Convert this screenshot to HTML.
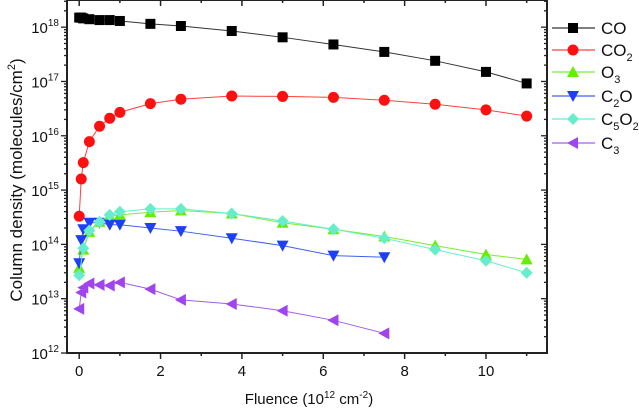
<!DOCTYPE html>
<html><head><meta charset="utf-8"><style>
body{margin:0;background:#fff;}
svg{display:block;font-family:"Liberation Sans",Arial,sans-serif;}
</style></head><body>
<svg id="chart" width="639" height="413" viewBox="0 0 639 413" xmlns="http://www.w3.org/2000/svg"></svg>
<script>
const xCO=[0,0.05,0.1,0.25,0.5,0.75,1,1.75,2.5,3.75,5,6.25,7.5,8.75,10,11];
const yCO=[1.5e18,1.5e18,1.45e18,1.4e18,1.35e18,1.35e18,1.3e18,1.15e18,1.05e18,8.5e17,6.5e17,4.8e17,3.5e17,2.4e17,1.5e17,9.2e16];
const xCO2=[0,0.05,0.1,0.25,0.5,0.75,1,1.75,2.5,3.75,5,6.25,7.5,8.75,10,11];
const yCO2=[3.3e14,1.6e15,3.2e15,7.8e15,1.5e16,2.1e16,2.7e16,3.9e16,4.7e16,5.4e16,5.3e16,5.1e16,4.5e16,3.8e16,3.0e16,2.3e16];
const xO3=[0,0.1,0.25,0.5,0.75,1,1.75,2.5,3.75,5,6.25,7.5,8.75,10,11];
const yO3=[3.7e13,8e13,1.7e14,2.6e14,3.3e14,3.5e14,3.9e14,4.2e14,3.7e14,2.5e14,1.9e14,1.4e14,9.5e13,6.5e13,5.3e13];
const xC2O=[0,0.05,0.1,0.25,0.5,0.75,1,1.75,2.5,3.75,5,6.25,7.5];
const yC2O=[4.5e13,1.2e14,1.9e14,2.5e14,2.5e14,2.3e14,2.3e14,2.0e14,1.75e14,1.3e14,9.5e13,6.2e13,5.8e13];
const xC5O2=[0,0.1,0.25,0.5,0.75,1,1.75,2.5,3.75,5,6.25,7.5,8.75,10,11];
const yC5O2=[2.7e13,8.5e13,1.8e14,2.6e14,3.5e14,4e14,4.5e14,4.5e14,3.7e14,2.7e14,1.9e14,1.3e14,8e13,5e13,3e13];
const xC3=[0,0.05,0.1,0.25,0.5,0.75,1,1.75,2.5,3.75,5,6.25,7.5];
const yC3=[6.5e12,1.3e13,1.6e13,1.9e13,1.8e13,1.75e13,2e13,1.5e13,9.5e12,8e12,6e12,4e12,2.3e12];
const xTicks=[0,2,4,6,8,10];
const yDecades=[12,13,14,15,16,17,18];

const NS="http://www.w3.org/2000/svg";
const svg=document.getElementById('chart');
const L=67,R=547,T=0,B=353;
const X0=-0.3,X1=11.5,LY0=12,LY1=18.5;
const sx=v=>L+(v-X0)/(X1-X0)*(R-L);
const sy=v=>B-(Math.log10(v)-LY0)/(LY1-LY0)*(B-T);
function el(tag,attrs,parent){const e=document.createElementNS(NS,tag);for(const k in attrs)e.setAttribute(k,attrs[k]);(parent||svg).appendChild(e);return e;}

const frame=el('rect',{x:L,y:T,width:R-L,height:B-T,fill:'none',stroke:'#222','stroke-width':2});



for(let v=0;v<=11;v++){
  const major=v%2===0, x=sx(v);
  const t=el('line',{x1:x,y1:B,x2:x,y2:B+(major?6:3),stroke:'#222','stroke-width':1.5});
  
  
  const t2=el('line',{x1:x,y1:T,x2:x,y2:T+(major?6:3),stroke:'#222','stroke-width':1.5});
  
  
}
xTicks.forEach(v=>{
  const t=el('text',{x:sx(v),y:B+23,'text-anchor':'middle','font-size':15,fill:'#111'});
  t.textContent=v;
  
  
});
yDecades.forEach(d=>{
  for(let m=1;m<=9;m++){
    const v=m*Math.pow(10,d);
    if(Math.log10(v)>LY1)break;
    const y=sy(v), major=m===1;
    const a=el('line',{x1:L-(major?6:3),y1:y,x2:L,y2:y,stroke:'#222','stroke-width':1.3});
    
    
    const b=el('line',{x1:R-(major?6:3),y1:y,x2:R,y2:y,stroke:'#222','stroke-width':1.3});
    
    
  }
  const t=el('text',{x:L-8,y:sy(Math.pow(10,d))+6,'text-anchor':'end','font-size':15,fill:'#111'});
  t.innerHTML='10<tspan dy="-7" font-size="10">'+d+'</tspan>';
  
  
});
const xt=el('text',{x:309,y:404,'text-anchor':'middle','font-size':15,fill:'#111'});
xt.innerHTML='Fluence (10<tspan dy="-6" font-size="10">12</tspan><tspan dy="6"> cm</tspan><tspan dy="-6" font-size="10">-2</tspan><tspan dy="6">)</tspan>';


const yt=el('text',{x:0,y:0,'text-anchor':'middle','font-size':17,fill:'#111',transform:'translate(22,180) rotate(-90)'});
yt.innerHTML='Column density (molecules/cm<tspan dy="-7" font-size="11">2</tspan><tspan dy="7">)</tspan>';



function marker(shape,x,y,c,g){
  const s=5;
  let e;
  if(shape==='square')e=el('rect',{x:x-s,y:y-s,width:2*s,height:2*s,fill:c},g);
  else if(shape==='circle')e=el('circle',{cx:x,cy:y,r:5.5,fill:c},g);
  else if(shape==='up')e=el('polygon',{points:`${x},${y-6} ${x-6},${y+5} ${x+6},${y+5}`,fill:c},g);
  else if(shape==='down')e=el('polygon',{points:`${x},${y+6} ${x-6},${y-5} ${x+6},${y-5}`,fill:c},g);
  else if(shape==='diamond')e=el('polygon',{points:`${x},${y-6} ${x+6},${y} ${x},${y+6} ${x-6},${y}`,fill:c},g);
  else e=el('polygon',{points:`${x-6},${y} ${x+5},${y-6} ${x+5},${y+6}`,fill:c},g);
  return e;
}
const series=[
 {n:'co',xs:xCO,ys:yCO,c:'#000',lc:'#333',sh:'square',lab:'CO'},
 {n:'co2',xs:xCO2,ys:yCO2,c:'#ff1010',lc:'#ff4040',sh:'circle',lab:'CO<tspan dy="5" font-size="11">2</tspan>'},
 {n:'o3',xs:xO3,ys:yO3,c:'#66ee00',lc:'#77ee33',sh:'up',lab:'O<tspan dy="5" font-size="11">3</tspan>'},
 {n:'c2o',xs:xC2O,ys:yC2O,c:'#1f3ff5',lc:'#4060f0',sh:'down',lab:'C<tspan dy="5" font-size="11">2</tspan><tspan dy="-5">O</tspan>'},
 {n:'c5o2',xs:xC5O2,ys:yC5O2,c:'#66eecc',lc:'#66eecc',sh:'diamond',lab:'C<tspan dy="5" font-size="11">5</tspan><tspan dy="-5">O</tspan><tspan dy="5" font-size="11">2</tspan>'},
 {n:'c3',xs:xC3,ys:yC3,c:'#a045ee',lc:'#a060ee',sh:'left',lab:'C<tspan dy="5" font-size="11">3</tspan>'}
];
const legY=[28,50,72,96,119,143];
series.forEach((s,i)=>{
  const g=el('g',{});
  
  
  const pts=s.xs.map((x,j)=>sx(x)+','+sy(s.ys[j])).join(' ');
  el('polyline',{points:pts,fill:'none',stroke:s.lc,'stroke-width':1},g);
  s.xs.forEach((x,j)=>{
    const m=marker(s.sh,sx(x),sy(s.ys[j]),s.c,g);
    
    
  });
  const lg=el('g',{});
  
  
  const y=legY[i];
  el('line',{x1:552,y1:y,x2:595,y2:y,stroke:s.lc,'stroke-width':1.2},lg);
  marker(s.sh,573,y,s.c,lg);
  const t=el('text',{x:601,y:y+6,'font-size':17,fill:'#111'},lg);
  t.innerHTML=s.lab;
});
</script>
</body></html>
